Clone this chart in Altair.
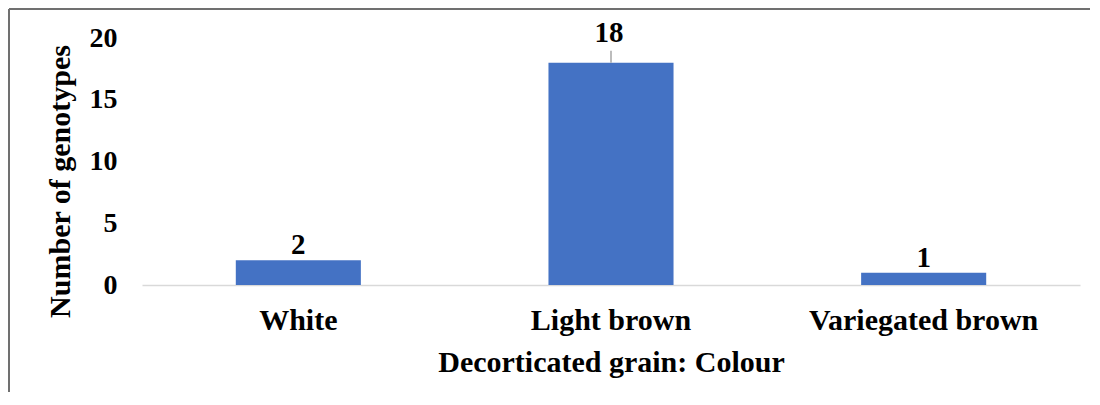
import altair as alt
import pandas as pd

categories = ["White", "Light brown", "Variegated brown"]
counts = [2, 18, 1]
y_ticks = [0, 5, 10, 15, 20]

df = pd.DataFrame({"colour": categories, "count": counts})

FONT = "Liberation Serif"
W, H = 938, 247

base = alt.Chart(df)

x_enc = alt.X(
    "colour:N",
    sort=categories,
    scale=alt.Scale(paddingInner=0.6, paddingOuter=0.3),
    axis=alt.Axis(
        title="Decorticated grain: Colour",
        labelAngle=0, labelLimit=0,
        labelFont=FONT, labelFontSize=30, labelFontWeight="bold", labelColor="black",
        labelPadding=20, ticks=False, tickSize=0,
        domainColor="#D9D9D9", domainWidth=1.5,
        titleFont=FONT, titleFontSize=30, titleFontWeight="bold", titleColor="black",
        titleY=86, titleBaseline="alphabetic",
    ),
)
y_enc = alt.Y(
    "count:Q",
    scale=alt.Scale(domain=[0, 20], nice=False),
    axis=alt.Axis(
        title="Number of genotypes",
        values=y_ticks, grid=False, domain=False, ticks=False, tickSize=0,
        labelFont=FONT, labelFontSize=28, labelFontWeight="bold", labelColor="black",
        labelPadding=25,
        titleFont=FONT, titleFontSize=30, titleFontWeight="bold", titleColor="black",
        titleX=-82, titleY=143, titleAlign="center", titleBaseline="middle", titleAngle=270,
    ),
)

bars = base.mark_bar(color="#4472C4").encode(x=x_enc, y=y_enc)

label_style = dict(font=FONT, fontSize=29, fontWeight="bold", color="black", baseline="alphabetic")

labels_low = base.transform_filter("datum.count < 10").mark_text(dy=-6, **label_style).encode(
    x=alt.X("colour:N", sort=categories), y="count:Q", text="count:Q"
)
labels_high = base.transform_filter("datum.count >= 10").mark_text(dy=-21, dx=-2, **label_style).encode(
    x=alt.X("colour:N", sort=categories), y="count:Q", text="count:Q"
)
leader = base.transform_filter("datum.count >= 10").mark_rule(
    color="#A6A6A6", strokeWidth=1.5, y2Offset=-12
).encode(x=alt.X("colour:N", sort=categories), y="count:Q", y2=alt.Y2("count:Q"))

frame_data = alt.Data(values=[{"k": 0}])
frame_top = alt.Chart(frame_data).mark_rule(color="#707070", strokeWidth=2).encode(
    x=alt.value(-133), x2=alt.value(948), y=alt.value(-29)
)
frame_left = alt.Chart(frame_data).mark_rule(color="#707070", strokeWidth=2).encode(
    x=alt.value(-133), y=alt.value(-29), y2=alt.value(354)
)

chart = alt.layer(bars, leader, labels_low, labels_high, frame_top, frame_left).properties(
    width=W, height=H,
    background="white",
    autosize=alt.AutoSizeParams(type="none"),
    padding={"left": 134, "top": 30, "right": 10, "bottom": 108},
).configure_view(stroke="transparent", strokeWidth=0)

chart.save("out.html", embed_options={"renderer": "svg", "actions": False})
